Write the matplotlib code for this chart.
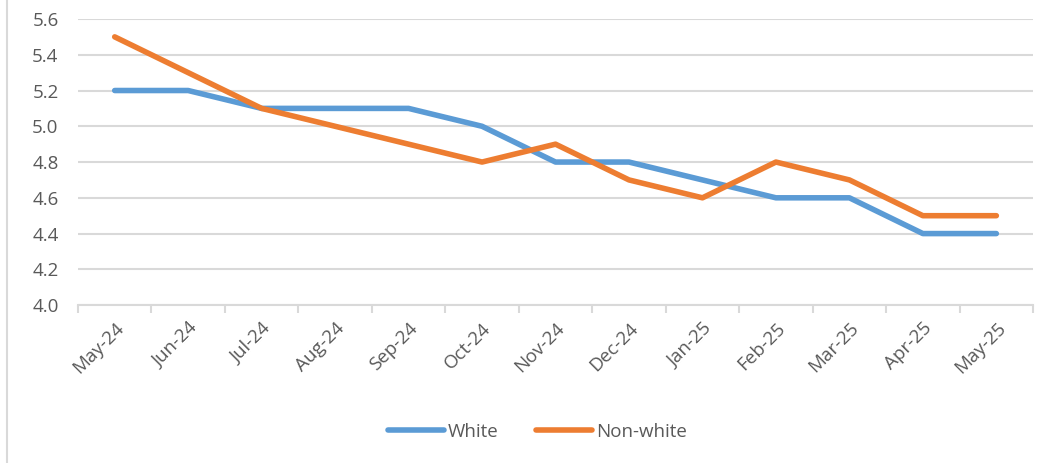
import matplotlib.pyplot as plt
import numpy as np
from matplotlib.lines import Line2D

months = ["May-24", "Jun-24", "Jul-24", "Aug-24", "Sep-24", "Oct-24", "Nov-24",
          "Dec-24", "Jan-25", "Feb-25", "Mar-25", "Apr-25", "May-25"]
white = [5.2, 5.2, 5.1, 5.1, 5.1, 5.0, 4.8, 4.8, 4.7, 4.6, 4.6, 4.4, 4.4]
non_white = [5.5, 5.3, 5.1, 5.0, 4.9, 4.8, 4.9, 4.7, 4.6, 4.8, 4.7, 4.5, 4.5]

plt.rcParams['font.family'] = ['Open Sans', 'DejaVu Sans']
text_col = "#595959"
grid_col = "#D9D9D9"

fig = plt.figure(figsize=(10.45, 4.63), dpi=100)
ax = fig.add_axes([0.0746, 0.341, 0.914, 0.618])

x = np.arange(len(months))
ax.plot(x, white, color="#5B9BD5", lw=4, solid_capstyle="round", label="White")
ax.plot(x, non_white, color="#ED7D31", lw=4, solid_capstyle="round", label="Non-white")

ax.set_xlim(-0.5, len(months) - 0.5)
ax.set_ylim(4.0, 5.6)
ax.set_yticks(np.arange(4.0, 5.61, 0.2))
ax.set_yticklabels([f"{v:.1f}" for v in np.arange(4.0, 5.61, 0.2)])
ax.yaxis.grid(True, color=grid_col, lw=1.5)
ax.set_axisbelow(True)

ax.set_xticks(x)
ax.set_xticklabels(months, rotation=45, ha="right", rotation_mode="anchor")
ax.set_xticks(np.arange(-0.5, len(months)), minor=True)
ax.tick_params(axis="x", which="major", length=0, pad=10, labelsize=13.5, colors=text_col)
ax.tick_params(axis="x", which="minor", length=6, width=1.5, color=grid_col)
ax.tick_params(axis="y", length=0, pad=14, labelsize=13.5, colors=text_col)

for s in ["top", "right", "left"]:
    ax.spines[s].set_visible(False)
ax.spines["bottom"].set_color(grid_col)
ax.spines["bottom"].set_linewidth(1.5)

leg = fig.legend(loc="center", bbox_to_anchor=(0.514, 0.067), ncol=2, frameon=False,
                 fontsize=13.5, handlelength=3.0, handletextpad=0.2, columnspacing=2.0)
for t in leg.get_texts():
    t.set_color(text_col)

fig.add_artist(Line2D([0.0067, 0.0067], [0, 1], color=grid_col, lw=1.5, transform=fig.transFigure))

fig.savefig("out.png", dpi=100)
